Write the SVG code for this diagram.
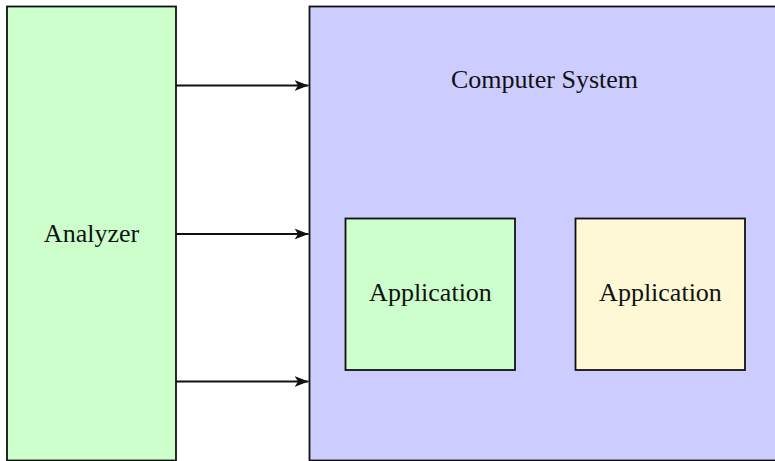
<svg xmlns="http://www.w3.org/2000/svg" width="775" height="461" viewBox="0 0 775 461">
  <style>
    .box { stroke: #111; stroke-width: 1.8; }
    .lbl { font-family: "Liberation Serif", "Times New Roman", serif; font-size: 26px; fill: #111; text-anchor: middle; }
    .edge { stroke: #111; stroke-width: 1.9; fill: none; marker-end: url(#arrow); }
  </style>
  <defs>
    <marker id="arrow" viewBox="0 0 14 12" refX="14" refY="6" markerWidth="14" markerHeight="12" markerUnits="userSpaceOnUse" orient="auto">
      <path d="M0,0.5 L14,6 L0,11.5 L3.5,6 Z" fill="#111"/>
    </marker>
  </defs>

  <rect width="775" height="461" fill="#ffffff"/>

  <g id="analyzer">
    <rect class="box" x="7" y="6.5" width="169" height="454" fill="#ccffcc"/>
    <text class="lbl" x="91.5" y="242">Analyzer</text>
  </g>

  <g id="computer-system">
    <rect class="box" x="309.5" y="6.5" width="480" height="454" fill="#ccccff"/>
    <text class="lbl" x="544.5" y="88">Computer System</text>
  </g>

  <g id="application-1">
    <rect class="box" x="345.5" y="218.5" width="169.5" height="151.5" fill="#ccffcc"/>
    <text class="lbl" x="430.5" y="301">Application</text>
  </g>

  <g id="application-2">
    <rect class="box" x="575.5" y="218.5" width="169.5" height="151.5" fill="#fff8d6"/>
    <text class="lbl" x="660.5" y="301">Application</text>
  </g>

  <g id="connectors">
    <line class="edge" x1="176" y1="85.5" x2="308.5" y2="85.5"/>
    <line class="edge" x1="176" y1="234" x2="308.5" y2="234"/>
    <line class="edge" x1="176" y1="381.5" x2="308.5" y2="381.5"/>
  </g>
</svg>
